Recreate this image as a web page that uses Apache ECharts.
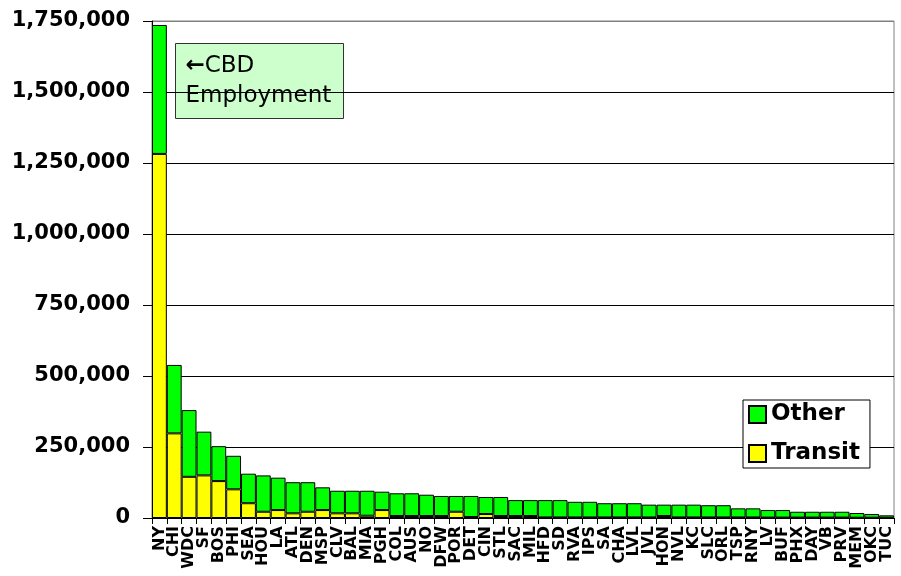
<!DOCTYPE html>
<html>
<head>
<meta charset="utf-8">
<script src="https://cdn.jsdelivr.net/npm/echarts@6/dist/echarts.min.js"></script>
<style>
  html, body { margin: 0; padding: 0; background: #fff; }
  #main { width: 901px; height: 576px; }
</style>
</head>
<body>
<div id="main"></div>
<script>
// CBD employment by metro, split by commute mode
const cities = ["NY", "CHI", "WDC", "SF", "BOS", "PHI", "SEA", "HOU", "LA", "ATL",
  "DEN", "MSP", "CLV", "BAL", "MIA", "PGH", "COL", "AUS", "NO", "DFW",
  "POR", "DET", "CIN", "STL", "SAC", "MIL", "HFD", "SD", "RVA", "IPS",
  "SA", "CHA", "LVL", "JVL", "HON", "NVL", "KC", "SLC", "ORL", "TSP",
  "RNY", "LV", "BUF", "PHX", "DAY", "VB", "PRV", "MEM", "OKC", "TUC"];

const transit = [1282000, 298000, 145000, 150000, 130000, 101000, 52000, 22000, 28000, 16500,
  22000, 28000, 16500, 16500, 8000, 28000, 7000, 7000, 7000, 7000,
  22000, 3500, 14000, 7000, 7000, 7000, 2000, 2000, 2000, 2000,
  2000, 2000, 2000, 2000, 7000, 2000, 2000, 2000, 2000, 2000,
  2000, 1500, 1500, 1500, 1500, 1500, 1500, 1000, 1000, 1000];

const other = [454000, 241000, 235000, 154000, 123000, 118000, 104000, 128000, 114000, 109500,
  104000, 80000, 79500, 79500, 88000, 64600, 80000, 80000, 75000, 70500,
  55500, 74000, 60000, 67000, 56000, 56000, 61000, 61000, 55000, 55000,
  50000, 50000, 50000, 45000, 40000, 45000, 45000, 43000, 43000, 32000,
  32000, 26500, 26500, 20500, 20500, 20500, 20500, 16600, 13000, 8400];

const yMax = 1750000;
const yStep = 250000;

const FONT = "DejaVu Sans";

const chart = echarts.init(document.getElementById("main"));

const option = {
  backgroundColor: "#fff",
  animation: false,
  grid: {
    left: 152,
    right: 7,
    top: 21,
    bottom: 58,
    show: true,
    backgroundColor: "#fff",
    borderColor: "#808080",
    borderWidth: 1
  },
  legend: {
    orient: "vertical",
    left: 743,
    top: 400,
    data: ["Other", "Transit"],
    itemWidth: 17,
    itemHeight: 17,
    itemGap: 16,
    padding: [3, 10, 3, 5],
    backgroundColor: "#fff",
    borderColor: "#000",
    borderWidth: 1,
    borderRadius: 0,
    icon: "rect",
    textStyle: {
      fontFamily: FONT,
      fontWeight: "bold",
      fontSize: 23,
      color: "#000",
      lineHeight: 20
    }
  },
  xAxis: {
    type: "category",
    data: cities,
    axisLine: { lineStyle: { color: "#000", width: 1 } },
    axisTick: { show: true, length: 6, lineStyle: { color: "#000" } },
    axisLabel: {
      interval: 0,
      rotate: 90,
      margin: 8,
      fontFamily: FONT,
      fontWeight: "bold",
      fontSize: 16,
      color: "#000"
    },
    splitLine: { show: false }
  },
  yAxis: {
    type: "value",
    min: 0,
    max: yMax,
    interval: yStep,
    axisLine: { show: true, lineStyle: { color: "#000", width: 1 } },
    axisTick: { show: true, length: 9, lineStyle: { color: "#000" } },
    axisLabel: {
      margin: 22,
      fontFamily: FONT,
      fontWeight: "bold",
      fontSize: 21,
      color: "#000",
      formatter: (v) => String(v).replace(/\B(?=(\d{3})+(?!\d))/g, ",")
    },
    splitLine: {
      show: true,
      lineStyle: {
        color: ["#000", "#000", "#000", "#000", "#000", "#000", "#000", "#808080"],
        width: 1
      }
    }
  },
  series: [
    {
      name: "Transit",
      type: "bar",
      stack: "cbd",
      data: transit,
      barCategoryGap: 0,
      itemStyle: { color: "#ffff00", borderColor: "#000", borderWidth: 1 }
    },
    {
      name: "Other",
      type: "bar",
      stack: "cbd",
      data: other,
      barCategoryGap: 0,
      itemStyle: { color: "#00ff00", borderColor: "#000", borderWidth: 1 }
    }
  ],
  graphic: [
    {
      type: "group",
      left: 175,
      top: 43,
      z: 100,
      children: [
        {
          type: "rect",
          shape: { x: 0, y: 0, width: 168, height: 75 },
          style: { fill: "#ccffcc", stroke: "#333", lineWidth: 1 }
        },
        {
          type: "text",
          x: 10,
          y: 8,
          style: {
            text: "{arr|←}CBD\nEmployment",
            fontFamily: FONT,
            fontSize: 23,
            lineHeight: 30,
            fill: "#000",
            rich: {
              arr: { fontFamily: FONT, fontWeight: "bold", fontSize: 23, fill: "#000" }
            }
          }
        }
      ]
    }
  ]
};

chart.setOption(option);
</script>
</body>
</html>
